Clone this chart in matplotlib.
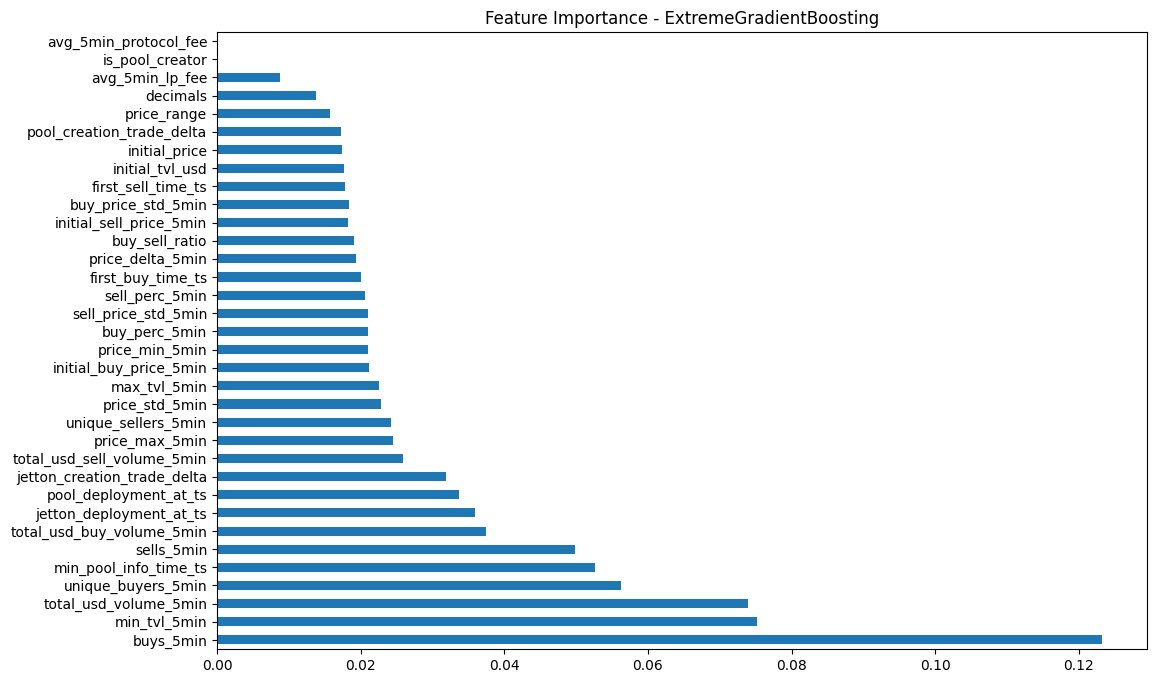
import matplotlib
matplotlib.use("Agg")
import matplotlib.pyplot as plt

features = [
    "buys_5min", "min_tvl_5min", "total_usd_volume_5min", "unique_buyers_5min",
    "min_pool_info_time_ts", "sells_5min", "total_usd_buy_volume_5min",
    "jetton_deployment_at_ts", "pool_deployment_at_ts", "jetton_creation_trade_delta",
    "total_usd_sell_volume_5min", "price_max_5min", "unique_sellers_5min",
    "price_std_5min", "max_tvl_5min", "initial_buy_price_5min", "price_min_5min",
    "buy_perc_5min", "sell_price_std_5min", "sell_perc_5min", "first_buy_time_ts",
    "price_delta_5min", "buy_sell_ratio", "initial_sell_price_5min",
    "buy_price_std_5min", "first_sell_time_ts", "initial_tvl_usd", "initial_price",
    "pool_creation_trade_delta", "price_range", "decimals", "avg_5min_lp_fee",
    "is_pool_creator", "avg_5min_protocol_fee",
]
importance = [
    0.1232, 0.0752, 0.0739, 0.0562,
    0.0526, 0.0498, 0.03745,
    0.0359, 0.0337, 0.0319,
    0.0259, 0.0245, 0.0242,
    0.0228, 0.02255, 0.02116, 0.0210,
    0.0210, 0.0210, 0.0206, 0.0200,
    0.01935, 0.01907, 0.0183,
    0.01838, 0.01782, 0.01768, 0.0174,
    0.01726, 0.01573, 0.01378, 0.00877,
    0.0, 0.0,
]

W, H = 1156, 682
fig = plt.figure(figsize=(W / 100, H / 100), dpi=100)
ax = fig.add_axes([217 / W, 1 - 649 / H, (1147 - 217) / W, (649 - 32) / H])
ypos = list(range(len(features)))
ax.barh(ypos, importance, height=0.5, color="#1f77b4")
ax.set_yticks(ypos)
ax.set_yticklabels(features)
ax.set_ylim(-0.5, len(features) - 0.5)
ax.set_xlim(0, 0.1295)
ax.set_xticks([0.0, 0.02, 0.04, 0.06, 0.08, 0.10, 0.12])
ax.set_xticklabels(["0.00", "0.02", "0.04", "0.06", "0.08", "0.10", "0.12"])
ax.set_title("Feature Importance - ExtremeGradientBoosting", fontsize=12)
fig.savefig("out.png", dpi=100)
